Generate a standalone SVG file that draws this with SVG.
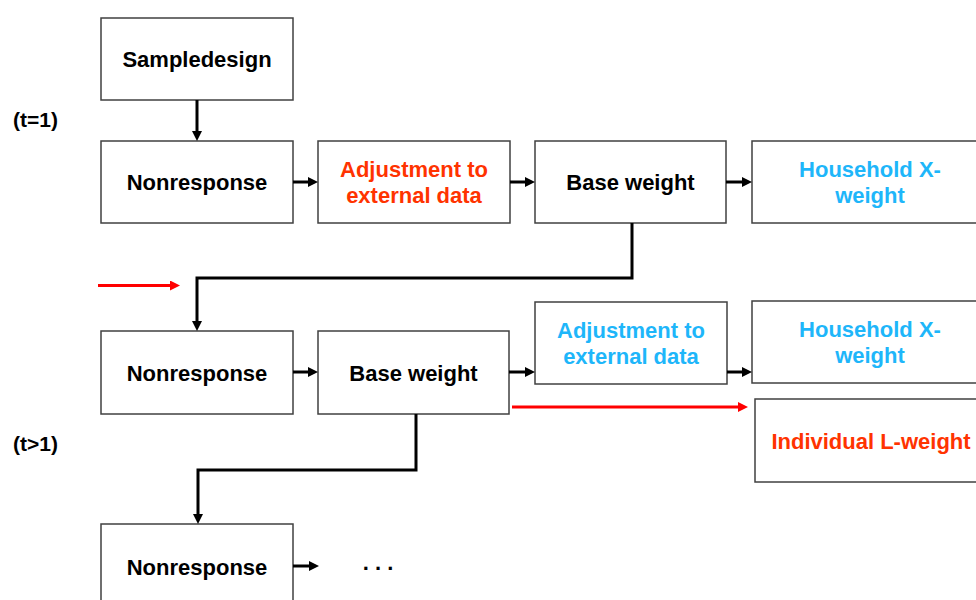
<svg xmlns="http://www.w3.org/2000/svg" width="976" height="600" viewBox="0 0 976 600">
<style>
.box{fill:#fff;stroke:#404040;stroke-width:1.5}
text{font-family:"Liberation Sans",Arial,sans-serif;font-weight:bold;font-size:22px;text-anchor:middle;fill:#000}
.red{fill:#FF3300}
.blue{fill:#1EB6FA}
.lbl{text-anchor:start;font-size:21px}
.con{fill:none;stroke:#000;stroke-width:3;marker-end:url(#ah)}
.rcon{fill:none;stroke:#FF0000;stroke-width:3;marker-end:url(#rah)}
</style>
<defs>
<marker id="ah" viewBox="0 0 10 10" refX="5" refY="5" markerWidth="10" markerHeight="10" markerUnits="userSpaceOnUse" orient="auto"><path d="M0,0 L10,5 L0,10 z" fill="#000"/></marker>
<marker id="rah" viewBox="0 0 10 10" refX="5" refY="5" markerWidth="11" markerHeight="10" markerUnits="userSpaceOnUse" orient="auto"><path d="M0,0 L10,5 L0,10 z" fill="#FF0000"/></marker>
</defs>
<rect width="976" height="600" fill="#fff"/>
<g id="label-t1"><text class="lbl" x="13" y="127">(t=1)</text></g>
<g id="label-t2"><text class="lbl" x="13" y="451">(t&gt;1)</text></g>
<g id="sampledesign"><rect class="box" x="101" y="18" width="192" height="82"/><text x="197" y="67">Sampledesign</text></g>
<g id="nonresponse1"><rect class="box" x="101" y="141" width="192" height="82"/><text x="197" y="190">Nonresponse</text></g>
<g id="adjustment1"><rect class="box" x="318" y="141" width="192" height="82"/><text class="red" x="414" y="177">Adjustment to</text><text class="red" x="414" y="203">external data</text></g>
<g id="baseweight1"><rect class="box" x="535" y="141" width="191" height="82"/><text x="630.5" y="190">Base weight</text></g>
<g id="household1"><rect class="box" x="752" y="141" width="236" height="82"/><text class="blue" x="870" y="177">Household X-</text><text class="blue" x="870" y="203">weight</text></g>
<g id="nonresponse2"><rect class="box" x="101" y="331" width="192" height="83"/><text x="197" y="380.5">Nonresponse</text></g>
<g id="baseweight2"><rect class="box" x="318" y="331" width="191" height="83"/><text x="413.5" y="380.5">Base weight</text></g>
<g id="adjustment2"><rect class="box" x="535" y="302" width="192" height="82"/><text class="blue" x="631" y="338">Adjustment to</text><text class="blue" x="631" y="364">external data</text></g>
<g id="household2"><rect class="box" x="752" y="301" width="236" height="82"/><text class="blue" x="870" y="337">Household X-</text><text class="blue" x="870" y="363">weight</text></g>
<g id="individual"><rect class="box" x="755" y="399" width="232" height="83"/><text class="red" x="871" y="448.5">Individual L-weight</text></g>
<g id="nonresponse3"><rect class="box" x="101" y="524" width="192" height="90"/><text x="197" y="575">Nonresponse</text></g>
<g id="ellipsis"><text x="378" y="570">. . .</text></g>
<g id="connectors">
<path class="con" d="M197,100 V136"/>
<path class="con" d="M293,182 H313"/>
<path class="con" d="M510,182 H530"/>
<path class="con" d="M726,182 H747"/>
<path class="con" d="M632,223 V278 H197 V326"/>
<path class="rcon" d="M98,285.5 H175"/>
<path class="con" d="M293,372 H313"/>
<path class="con" d="M509,372 H530"/>
<path class="con" d="M727,372 H747"/>
<path class="rcon" d="M512,407 H743"/>
<path class="con" d="M416,414 V470 H198 V519"/>
<path class="con" d="M293,566 H314"/>
</g>
</svg>
